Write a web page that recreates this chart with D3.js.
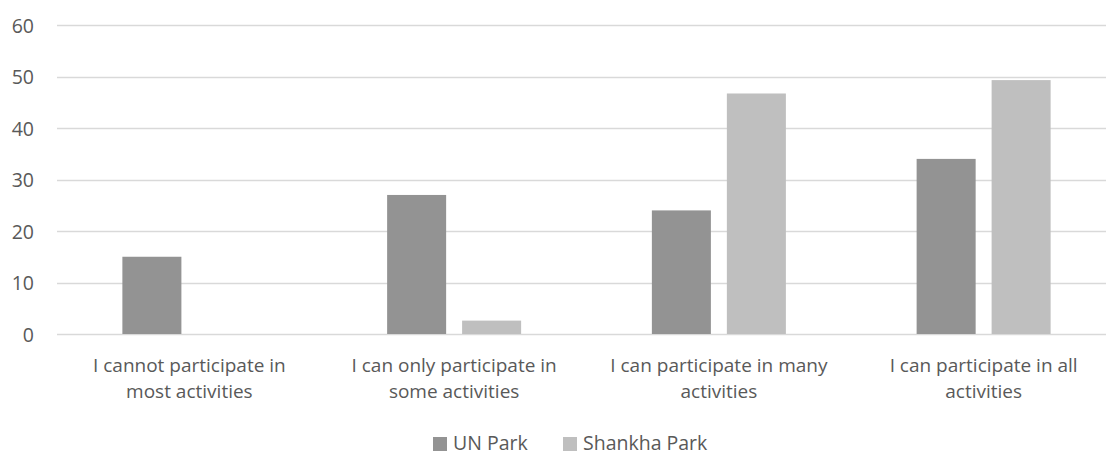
<!DOCTYPE html>
<html>
<head>
<meta charset="utf-8">
<script src="https://cdn.jsdelivr.net/npm/d3@7"></script>
<style>
  html, body { margin: 0; padding: 0; background: #ffffff; }
  svg { display: block; }
  text { font-family: "Open Sans", sans-serif; fill: #595959; }
</style>
</head>
<body>
<svg id="chart" width="1106" height="456"></svg>
<script>
// Responses per category, by park
const categories = [
  ["I cannot participate in", "most activities"],
  ["I can only participate in", "some activities"],
  ["I can participate in many", "activities"],
  ["I can participate in all", "activities"]
];
const seriesNames = ["UN Park", "Shankha Park"];
const unPark = [15, 27, 24, 34];
const shankhaPark = [0, 2.6, 46.7, 49.3];
const yTicks = [0, 10, 20, 30, 40, 50, 60];
const colors = ["#939393", "#bfbfbf"];

const FONT = "'Open Sans', sans-serif";
const FS = 19;

const svg = d3.select("#chart");
const plot = { left: 57, right: 1116, top: 25, bottom: 334 };

const catKeys = categories.map((c, i) => i);
const x0 = d3.scaleBand().domain(catKeys).range([plot.left, plot.right]).padding(0);
const groupW = 134;
const x1 = d3.scaleBand().domain(seriesNames).range([0, groupW]).paddingInner(0.213).paddingOuter(0);
const y = d3.scaleLinear().domain([0, 60]).range([plot.bottom, plot.top]);

// gridlines
svg.append("g")
  .selectAll("line")
  .data(yTicks)
  .join("line")
  .attr("x1", plot.left)
  .attr("x2", plot.right)
  .attr("y1", d => Math.round(y(d)) + 0.5)
  .attr("y2", d => Math.round(y(d)) + 0.5)
  .attr("stroke", "#d9d9d9")
  .attr("stroke-width", 1.3);

// y axis labels
const yAxis = d3.axisLeft(y).tickValues(yTicks).tickSize(0).tickPadding(0);
const ya = svg.append("g").attr("transform", "translate(34,0)").call(yAxis);
ya.select(".domain").remove();
ya.selectAll("text")
  .attr("font-size", 19.5)
  .attr("font-family", FONT)
  .attr("fill", "#595959")
  .attr("dy", "0.36em");

// bars
const rows = catKeys.map(i => ({ i, vals: [unPark[i], shankhaPark[i]] }));
const groups = svg.append("g")
  .selectAll("g")
  .data(rows)
  .join("g")
  .attr("transform", d => `translate(${x0(d.i) + (x0.bandwidth() - groupW) / 2},0)`);

groups.selectAll("rect")
  .data(d => d.vals.map((v, k) => ({ name: seriesNames[k], v, k })))
  .join("rect")
  .attr("x", d => x1(d.name))
  .attr("width", x1.bandwidth())
  .attr("y", d => y(d.v))
  .attr("height", d => y(0) - y(d.v))
  .attr("fill", d => colors[d.k]);

// category labels, two lines each
const xl = svg.append("g");
categories.forEach((lines, i) => {
  const cx = x0(i) + x0.bandwidth() / 2;
  lines.forEach((ln, j) => {
    xl.append("text")
      .attr("x", cx)
      .attr("y", 372 + j * 26)
      .attr("text-anchor", "middle")
      .attr("font-size", FS)
      .text(ln);
  });
});

// legend
const legend = svg.append("g");
const legendItems = [
  { name: seriesNames[0], x: 433 },
  { name: seriesNames[1], x: 563 }
];
legendItems.forEach((it, k) => {
  legend.append("rect")
    .attr("x", it.x).attr("y", 437).attr("width", 14).attr("height", 14)
    .attr("fill", colors[k]);
  legend.append("text")
    .attr("x", it.x + 20).attr("y", 450)
    .attr("font-size", 19.5)
    .text(it.name);
});
</script>
</body>
</html>
